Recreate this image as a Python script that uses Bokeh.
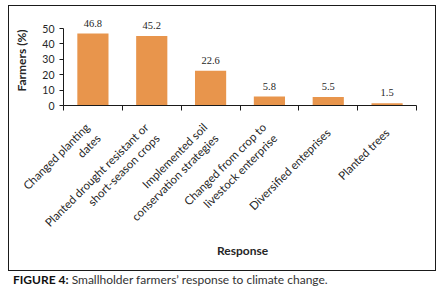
import numpy as np
from bokeh.plotting import figure
from bokeh.models import ColumnDataSource, FixedTicker, LabelSet, Div, Range1d
from bokeh.layouts import column
from bokeh.embed import file_html
from bokeh.resources import INLINE

# ---- data ----
responses = [
    "Changed planting\ndates",
    "Planted drought resistant or\nshort-season crops",
    "Implemented soil\nconservation strategies",
    "Changed from crop to\nlivestock enterprise",
    "Diversified enteprises",
    "Planted trees",
]
farmers_pct = [46.8, 45.2, 22.6, 5.8, 5.5, 1.5]
y_ticks = [0, 10, 20, 30, 40, 50]
x_title = "Response"
y_title = "Farmers (%)"
caption_bold = "FIGURE 4:"
caption_text = "Smallholder farmers\u2019 response to climate change."

FONT = "Lato"
TXT = "#262626"
BAR = "#E8954C"

n = len(responses)
xc = np.arange(n) + 0.5
src = ColumnDataSource(dict(x=xc, y=farmers_pct, lab=[f"{v:.1f}" for v in farmers_pct]))

p = figure(width=416, height=247, x_range=Range1d(0, n), y_range=Range1d(0, 58.5),
           output_backend="svg", toolbar_location=None,
           min_border_left=54, min_border_right=9, min_border_top=9, min_border_bottom=148)
p.outline_line_color = None
p.grid.visible = False

p.vbar(x="x", top="y", width=0.53, source=src, fill_color=BAR, line_color=None)

labels = LabelSet(x="x", y="y", text="lab", source=src, text_align="center",
                  text_baseline="bottom", y_offset=7, text_font=FONT,
                  text_font_size="10.5px", text_color=TXT)
p.add_layout(labels)

xa = p.xaxis[0]
xa.ticker = FixedTicker(ticks=list(xc), minor_ticks=list(range(n + 1)))
xa.major_label_overrides = {float(x): lab for x, lab in zip(xc, responses)}
xa.major_label_orientation = np.pi / 4
xa.major_tick_out = 0
xa.major_tick_in = 0
xa.minor_tick_out = 5
xa.minor_tick_in = 0
xa.minor_tick_line_color = "#1a1a1a"
xa.axis_line_color = "#1a1a1a"
xa.major_label_text_font = FONT
xa.major_label_text_font_size = "11.5px"
xa.major_label_text_color = TXT
xa.major_label_standoff = 20

ya = p.yaxis[0]
ya.ticker = FixedTicker(ticks=y_ticks)
ya.bounds = (0, 50)
ya.major_tick_out = 4
ya.major_tick_in = 0
ya.minor_tick_line_color = None
ya.axis_line_color = "#1a1a1a"
ya.major_tick_line_color = "#1a1a1a"
ya.major_label_text_font = FONT
ya.major_label_text_font_size = "10.5px"
ya.major_label_text_color = TXT
ya.major_label_standoff = 5
ya.axis_label = y_title
ya.axis_label_text_font = FONT
ya.axis_label_text_font_style = "bold"
ya.axis_label_text_font_size = "12px"
ya.axis_label_text_color = TXT
ya.axis_label_standoff = 10

xtitle = Div(text=f"<div style='margin-left:203px; font-weight:bold; line-height:15px'>{x_title}</div>",
             width=416, height=23,
             styles={"font-family": FONT, "font-size": "12px", "color": TXT,
                     "margin-top": "-11px"})

boxed = column(p, xtitle, styles={"border": "1.5px solid #1a1a1a"})

cap = Div(text=f"<b style='color:#111'>{caption_bold}</b> {caption_text}", width=431,
          styles={"font-family": FONT, "font-size": "12px", "color": "#333",
                  "margin-top": "0px"})

layout = column(boxed, cap, styles={"margin-top": "5px", "margin-left": "8px"})
open("out.html", "w").write(file_html(layout, INLINE))
